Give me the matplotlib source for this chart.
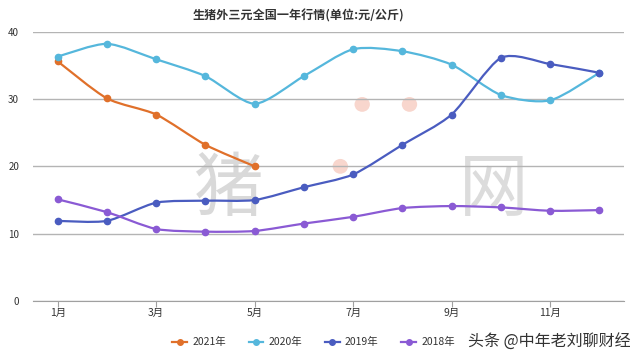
import matplotlib.pyplot as plt
import numpy as np
from matplotlib.path import Path
from matplotlib.patches import PathPatch, Ellipse

plt.rcParams['font.family'] = ['Noto Sans CJK SC', 'DejaVu Sans']

months = np.arange(1, 13)
tick_months = [1, 3, 5, 7, 9, 11]
tick_labels = ['1月', '3月', '5月', '7月', '9月', '11月']

price_2021 = [35.6, 30.1, 27.7, 23.2, 20.0]
price_2020 = [36.3, 38.2, 35.9, 33.4, 29.3, 33.4, 37.4, 37.1, 35.1, 30.6, 29.8, 33.9]
price_2019 = [11.9, 11.9, 14.6, 14.9, 15.0, 16.9, 18.8, 23.2, 27.7, 36.1, 35.2, 33.9]
price_2018 = [15.1, 13.2, 10.7, 10.3, 10.4, 11.5, 12.5, 13.8, 14.1, 13.9, 13.4, 13.5]

series = [
    ('2021年', price_2021, '#e0702a'),
    ('2020年', price_2020, '#55b7dc'),
    ('2019年', price_2019, '#4a5cc0'),
    ('2018年', price_2018, '#8a5ad4'),
]


def smooth_path(x, y, k=8.0):
    # smoothed line like excel: cubic bezier through every point
    pts = np.column_stack([x, y]).astype(float)
    n = len(pts)
    verts = [pts[0]]
    codes = [Path.MOVETO]
    for i in range(n - 1):
        p_prev = pts[i - 1] if i > 0 else pts[i]
        p_next2 = pts[i + 2] if i + 2 < n else pts[i + 1]
        c1 = pts[i] + (pts[i + 1] - p_prev) / k
        c2 = pts[i + 1] - (p_next2 - pts[i]) / k
        verts += [c1, c2, pts[i + 1]]
        codes += [Path.CURVE4] * 3
    return Path(verts, codes)


fig = plt.figure(figsize=(6.4, 3.59), dpi=100)
ax = fig.add_axes([0.0516, 0.1616, 0.9234, 0.7501])

# background watermark
ax.text(0.33, 0.41, '猪', transform=ax.transAxes, fontsize=50, color='#d9d9d9',
        ha='center', va='center', zorder=0)
ax.text(0.78, 0.41, '网', transform=ax.transAxes, fontsize=50, color='#dcdcdc',
        ha='center', va='center', zorder=0)
for (px, py) in [(0.557, 0.73), (0.637, 0.73), (0.52, 0.50)]:
    ax.add_patch(Ellipse((px, py), 0.026, 0.055, transform=ax.transAxes,
                         color='#f8d6cd', zorder=0, lw=0))

handles = []
for label, vals, color in series:
    x = months[:len(vals)]
    ax.add_patch(PathPatch(smooth_path(x, vals), fill=False, edgecolor=color,
                           lw=1.6, zorder=3))
    ax.plot(x, vals, 'o', color=color, ms=4.5, zorder=4)
    handles.append(ax.plot([], [], '-o', color=color, ms=4, lw=1.6, label=label)[0])

ax.set_xlim(0.5, 12.5)
ax.set_ylim(0, 40)
ax.set_yticks([0, 10, 20, 30, 40])
ax.set_xticks(tick_months)
ax.set_xticklabels(tick_labels)
ax.tick_params(axis='y', length=0, labelsize=7, pad=10, colors='#333333')
ax.tick_params(axis='x', length=4, color='#a0a0a0', labelsize=7.5, pad=1,
               colors='#333333')
ax.grid(axis='y', color='#b4b4b4', lw=1)
ax.set_axisbelow(True)
for s in ['top', 'right', 'left']:
    ax.spines[s].set_visible(False)
ax.spines['bottom'].set_color('#a0a0a0')

fig.text(0.466, 0.955, '生猪外三元全国一年行情(单位:元/公斤)', ha='center', va='center',
         fontsize=8.7, fontweight='bold', color='#333333')

fig.legend(handles=handles, loc='center', bbox_to_anchor=(0.49, 0.047), ncol=4,
           frameon=False, fontsize=7.5, handlelength=1.4, columnspacing=2.2,
           handletextpad=0.5, labelcolor='#333333')

fig.text(0.985, 0.047, '头条 @中年老刘聊财经', ha='right', va='center',
         fontsize=11.5, color='#333333')

fig.savefig('out.png', dpi=100)
